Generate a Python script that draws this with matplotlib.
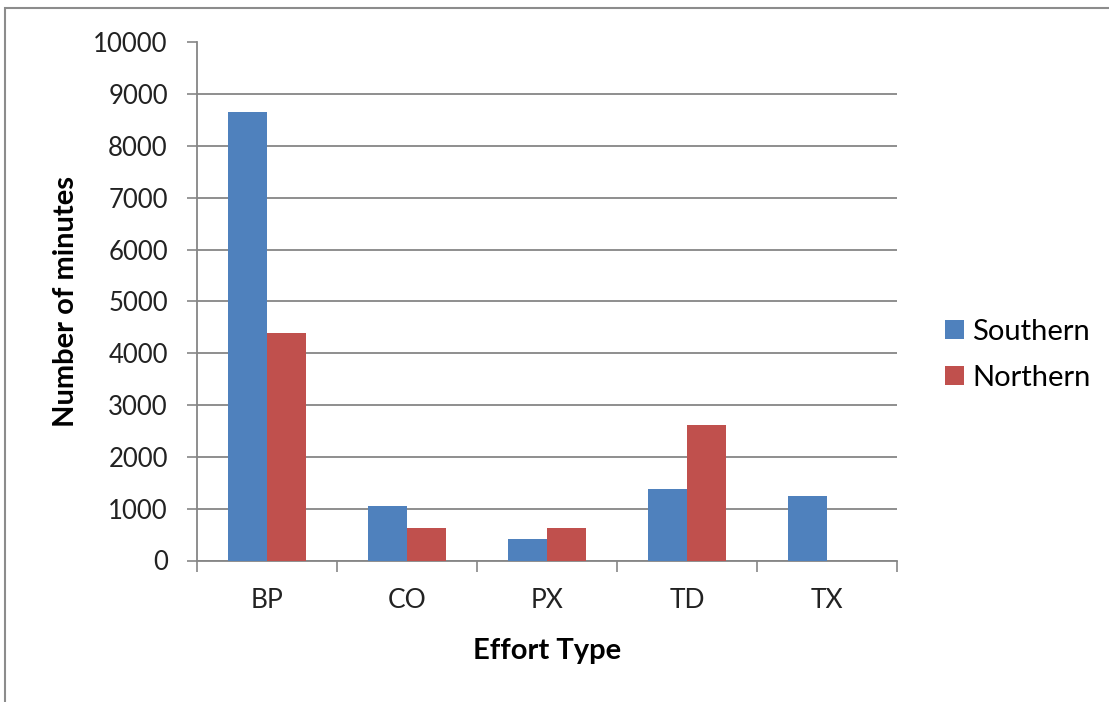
import numpy as np
import matplotlib
matplotlib.use('Agg')
import matplotlib.pyplot as plt
from matplotlib.patches import Rectangle

categories = ['BP', 'CO', 'PX', 'TD', 'TX']
southern = [8650, 1060, 410, 1385, 1240]
northern = [4390, 625, 625, 2610, 0]
series_names = ['Southern', 'Northern']

plt.rcParams['font.family'] = ['Lato', 'DejaVu Sans']

fig = plt.figure(figsize=(11.09, 7.02), dpi=100)
W, H = 1109, 702
ax = fig.add_axes([197 / W, 1 - 560.5 / H, 700 / W, 518 / H])

grey = '#868686'
x = np.arange(len(categories))
w = 0.28
ax.bar(x - w / 2, southern, w, color='#4F81BD', label=series_names[0], zorder=3)
ax.bar(x + w / 2, northern, w, color='#C0504D', label=series_names[1], zorder=3)

ax.set_xlim(-0.5, len(categories) - 0.5)
ax.set_ylim(0, 10000)
ax.set_yticks(np.arange(0, 10001, 1000))
ax.yaxis.grid(True, color=grey, linewidth=1.3, zorder=0)

ax.set_xticks(x)
ax.set_xticklabels(categories)
ax.set_xticks(np.arange(-0.5, len(categories)), minor=True)
ax.tick_params(axis='x', which='major', length=0, pad=20, labelsize=19, colors='#222222')
ax.tick_params(axis='x', which='minor', length=8, width=1.2, color=grey)
ax.tick_params(axis='y', length=7, width=1.2, color=grey, labelsize=18.5, labelcolor='#222222', pad=14)

for side in ['top', 'right']:
    ax.spines[side].set_visible(False)
for side in ['left', 'bottom']:
    ax.spines[side].set_color(grey)
    ax.spines[side].set_linewidth(1.3)

ax.set_ylabel('Number of minutes', fontsize=21, fontweight='bold', labelpad=10)
ax.set_xlabel('Effort Type', fontsize=21, fontweight='bold', labelpad=18)

leg = ax.legend(loc='center left', bbox_to_anchor=(1.069, 0.397), frameon=False,
                fontsize=21, handlelength=0.63, handleheight=0.63, handletextpad=0.3,
                labelspacing=0.7, borderpad=0, borderaxespad=0)

# chart frame
fig.patches.append(Rectangle((5 / W, -0.05), 1.1, 1 - 8 / H + 0.05, transform=fig.transFigure,
                             fill=False, edgecolor='#8c8c8c', linewidth=1.5))

fig.savefig('out.png', dpi=100)
